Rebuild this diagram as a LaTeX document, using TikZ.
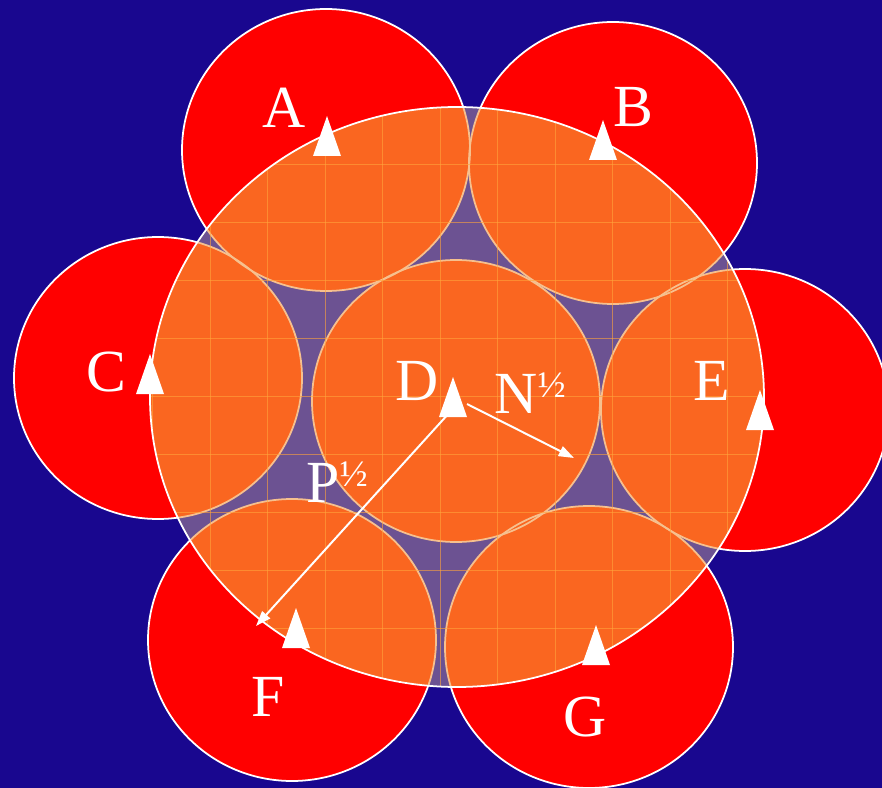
\documentclass[tikz,border=0pt]{standalone}
\usepackage{fontspec}
\setmainfont{Liberation Serif}
\usetikzlibrary{arrows.meta, positioning}
\definecolor{bgblue}{RGB}{25, 7, 143}
\definecolor{cred}{RGB}{255, 0, 0}
\definecolor{corange}{RGB}{250, 102, 32}
\definecolor{cgap}{RGB}{108, 82, 146}
\definecolor{cpeach}{RGB}{246, 192, 142}
\definecolor{cgrid}{RGB}{255, 165, 60}
\tikzset{
  cell/.style={fill=cred, draw=white, line width=1.5pt},
  letter/.style={text=white, font=\fontsize{51}{60}\selectfont, inner sep=0pt},
  gridline/.style={cgrid, line width=0.7pt, opacity=0.6},
  vec/.style={white, line width=1.7pt, -{Triangle[length=13pt, width=9pt]}},
  pics/marker/.style={code={
    \fill[white] (-14,0) -- (0,-40) -- (14,0) -- cycle;
    \coordinate (-base) at (0,0);
  }}
}
\newcommand{\half}{\raisebox{14pt}{\fontsize{32}{32}\selectfont ½}}

\begin{document}
\begin{tikzpicture}[x=0.03cm, y=-0.03cm]
  \fill[bgblue] (0,0) rectangle (882,788);
  \useasboundingbox (0,0) rectangle (882,788);
  % centres of the seven cells and of the large disc
  \coordinate (cA) at (326,150);
  \coordinate (cB) at (613,163);
  \coordinate (cC) at (158,378);
  \coordinate (cD) at (456,401);
  \coordinate (cE) at (745,410);
  \coordinate (cF) at (292,640);
  \coordinate (cG) at (589,647);
  \coordinate (cBig) at (457,397);
  % red cells
  \foreach \c in {A,B,C,D,E,F,G}
    \draw[cell] (c\c) ellipse (144 and 141);
  % translucent disc
  \begin{scope}
    \clip (cBig) ellipse (307 and 290);
    \fill[cgap] (cBig) ellipse (307 and 290);
    \foreach \c in {A,B,C,D,E,F,G}
      \fill[corange] (c\c) ellipse (144 and 141);
    \foreach \c in {A,B,C,D,E,F,G}
      \draw[cpeach, line width=1.5pt] (c\c) ellipse (144 and 141);
    \foreach \i in {0,...,11} {
      \draw[gridline] ({152.5+57.5*\i},80) -- ++(0,640);
      \draw[gridline] (140,{106+58*\i}) -- ++(640,0);
    }
  \end{scope}
  \draw[white, line width=1.5pt] (cBig) ellipse (307 and 290);
  % markers
  \pic (tA) at (327,156) {marker};
  \pic (tB) at (603,160) {marker};
  \pic (tC) at (150,394) {marker};
  \pic (tD) at (453,417) {marker};
  \pic (tE) at (760,430) {marker};
  \pic (tF) at (296,648) {marker};
  \pic (tG) at (596,665) {marker};
  % labels
  \node[letter] (lA) at (284,108) {A};
  \node[letter] (lB) at (633,107) {B};
  \node[letter] (lC) at (106,372) {C};
  \node[letter] (lD) at (417,381) {D};
  \node[letter] (lE) at (712,381) {E};
  \node[letter] (lF) at (268,697) {F};
  \node[letter] (lG) at (585,717) {G};
  % radii
  \coordinate (nStart) at (467,404);
  \coordinate (nEnd) at (574,458);
  \coordinate (pStart) at (450,412);
  \coordinate (pEnd) at (256,626);
  \draw[vec] (nStart) -- (nEnd);
  \draw[vec] (pStart) -- (pEnd);
  \node[letter] (lN) at (530,393) {N\half};
  \node[letter] (lP) at (337,482) {P\half};
\end{tikzpicture}
\end{document}
